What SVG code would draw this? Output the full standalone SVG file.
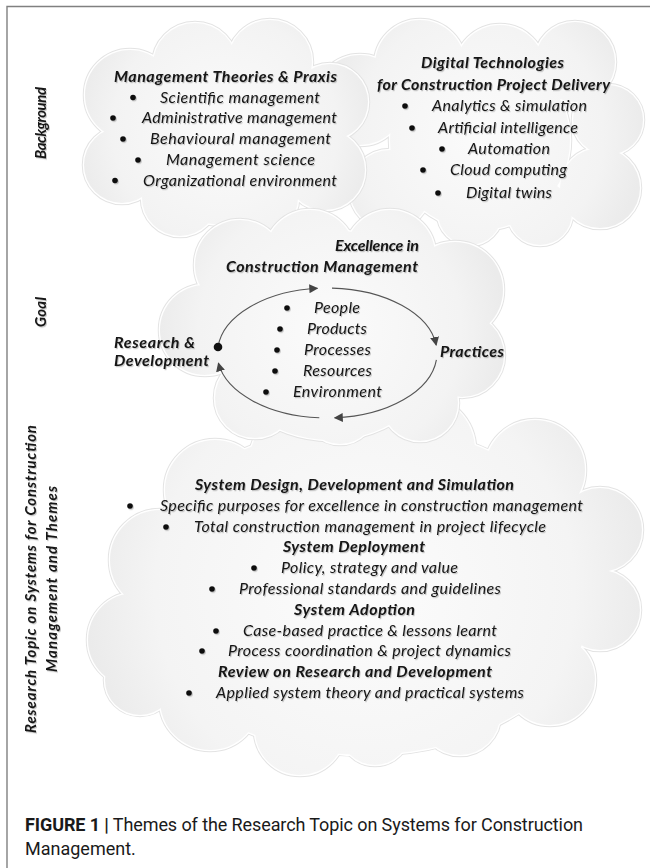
<svg xmlns="http://www.w3.org/2000/svg" width="650" height="868" viewBox="0 0 650 868">
<defs>
<style>
.t{font-family:Lato,"Open Sans","Liberation Sans",sans-serif;font-size:16px;font-style:italic;fill:#141414}
.h{font-family:Lato,"Open Sans","Liberation Sans",sans-serif;font-size:16px;font-style:italic;font-weight:bold;fill:#141414}
.lab{font-family:Lato,"Open Sans","Liberation Sans",sans-serif;font-size:15px;font-style:italic;font-weight:bold;fill:#141414}
.cap{font-family:Roboto,"Liberation Sans",sans-serif;font-size:18px;fill:#1a1a1a}
.bul{fill:#111}
.cs1{fill:none;stroke:#e3e3e3;stroke-width:4.5}
.cs2{fill:none;stroke:#ffffff;stroke-width:2.6}
.arc{fill:none;stroke:#555;stroke-width:1.1}
</style>
<filter id="ts" x="-5%" y="-20%" width="110%" height="150%">
<feDropShadow dx="1" dy="1.2" stdDeviation="0.7" flood-color="#000" flood-opacity="0.22"/>
</filter>
<radialGradient id="g1" gradientUnits="userSpaceOnUse" cx="225" cy="130" r="150">
<stop offset="0" stop-color="#fbfbfb"/><stop offset="0.75" stop-color="#f3f3f3"/><stop offset="1" stop-color="#ebebeb"/>
</radialGradient>
<radialGradient id="g2" gradientUnits="userSpaceOnUse" cx="480" cy="135" r="165">
<stop offset="0" stop-color="#fbfbfb"/><stop offset="0.75" stop-color="#f3f3f3"/><stop offset="1" stop-color="#ebebeb"/>
</radialGradient>
<radialGradient id="g3" gradientUnits="userSpaceOnUse" cx="330" cy="330" r="175">
<stop offset="0" stop-color="#fbfbfb"/><stop offset="0.75" stop-color="#f3f3f3"/><stop offset="1" stop-color="#ebebeb"/>
</radialGradient>
<radialGradient id="g4" gradientUnits="userSpaceOnUse" cx="365" cy="590" r="280">
<stop offset="0" stop-color="#fcfcfc"/><stop offset="0.75" stop-color="#f4f4f4"/><stop offset="1" stop-color="#ebebeb"/>
</radialGradient>
<marker id="ah" viewBox="0 0 10 10" refX="9" refY="5" markerWidth="9" markerHeight="9" markerUnits="userSpaceOnUse" orient="auto">
<path d="M0,0 L10,5 L0,10 Z" fill="#444"/>
</marker>
<g id="c1">
<circle cx="130" cy="95" r="45"/><circle cx="195" cy="65" r="42"/><circle cx="270" cy="62" r="42"/>
<circle cx="330" cy="102" r="38"/><circle cx="325" cy="170" r="40"/><circle cx="260" cy="198" r="38"/>
<circle cx="180" cy="198" r="38"/><circle cx="122" cy="165" r="38"/><circle cx="225" cy="135" r="90"/>
</g>
<g id="c2">
<circle cx="360" cy="100" r="45"/><circle cx="420" cy="65" r="45"/><circle cx="500" cy="70" r="45"/>
<circle cx="575" cy="62" r="40"/><circle cx="608" cy="120" r="35"/><circle cx="600" cy="188" r="40"/>
<circle cx="540" cy="213" r="32"/><circle cx="470" cy="213" r="32"/><circle cx="390" cy="190" r="40"/>
<circle cx="480" cy="140" r="90"/>
</g>
<g id="c3">
<circle cx="205" cy="330" r="45"/><circle cx="240" cy="265" r="45"/><circle cx="310" cy="255" r="45"/>
<circle cx="390" cy="255" r="45"/><circle cx="455" cy="290" r="48"/><circle cx="462" cy="355" r="42"/>
<circle cx="420" cy="403" r="38"/><circle cx="340" cy="408" r="36"/><circle cx="255" cy="398" r="40"/>
<ellipse cx="330" cy="335" rx="115" ry="105"/>
</g>
<g id="c4">
<circle cx="135" cy="640" r="47"/><circle cx="160" cy="560" r="50"/><circle cx="215" cy="490" r="50"/>
<circle cx="300" cy="460" r="50"/><circle cx="420" cy="450" r="55"/><circle cx="535" cy="470" r="50"/>
<circle cx="600" cy="530" r="42"/><circle cx="600" cy="610" r="40"/><circle cx="550" cy="680" r="45"/>
<circle cx="460" cy="715" r="40"/><circle cx="375" cy="730" r="35"/><circle cx="300" cy="730" r="45"/>
<circle cx="210" cy="700" r="50"/><circle cx="140" cy="680" r="35"/>
<ellipse cx="365" cy="590" rx="230" ry="165"/>
</g>
</defs>

<rect width="650" height="868" fill="#ffffff"/>
<path d="M7,868 V6.5 H650" fill="none" stroke="#808080" stroke-width="1.4"/>

<!-- clouds -->
<g id="cloud-themes">
<use href="#c4" class="cs1"/><use href="#c4" class="cs2"/><use href="#c4" fill="url(#g4)"/>
</g>
<g id="cloud-digital">
<use href="#c2" class="cs1"/><use href="#c2" class="cs2"/><use href="#c2" fill="url(#g2)"/>
</g>
<g id="cloud-theories">
<use href="#c1" class="cs1"/><use href="#c1" class="cs2"/><use href="#c1" fill="url(#g1)"/>
</g>
<g id="cloud-goal">
<use href="#c3" class="cs1"/><use href="#c3" class="cs2"/><use href="#c3" fill="url(#g3)"/>
</g>

<!-- side labels -->
<g id="side-labels" filter="url(#ts)">
<text class="lab" transform="translate(46,123) rotate(-90)" text-anchor="middle" textLength="72">Background</text>
<text class="lab" transform="translate(46,312) rotate(-90)" text-anchor="middle" textLength="30">Goal</text>
<text class="lab" transform="translate(36,579) rotate(-90)" text-anchor="middle" textLength="308">Research Topic on Systems for Construction</text>
<text class="lab" transform="translate(57,579) rotate(-90)" text-anchor="middle" textLength="186">Management and Themes</text>
</g>

<!-- Management theories -->
<g id="node-management-theories" filter="url(#ts)">
<text class="h" x="114" y="82" textLength="223">Management Theories &amp; Praxis</text>
<circle class="bul" cx="133" cy="97.5" r="2.8"/><text class="t" x="160" y="102.5" textLength="160">Scientific management</text>
<circle class="bul" cx="113" cy="118" r="2.8"/><text class="t" x="142" y="123" textLength="195">Administrative management</text>
<circle class="bul" cx="123" cy="139" r="2.8"/><text class="t" x="150" y="144" textLength="181">Behavioural management</text>
<circle class="bul" cx="138" cy="160" r="2.8"/><text class="t" x="166" y="165" textLength="149">Management science</text>
<circle class="bul" cx="115" cy="180.5" r="2.8"/><text class="t" x="143" y="185.5" textLength="194">Organizational environment</text>
</g>

<!-- Digital technologies -->
<g id="node-digital-technologies" filter="url(#ts)">
<text class="h" x="421" y="68" textLength="143">Digital Technologies</text>
<text class="h" x="377" y="89.5" textLength="233">for Construction Project Delivery</text>
<circle class="bul" cx="405" cy="106" r="2.8"/><text class="t" x="432" y="111" textLength="155">Analytics &amp; simulation</text>
<circle class="bul" cx="412" cy="128" r="2.8"/><text class="t" x="438" y="133" textLength="140">Artificial intelligence</text>
<circle class="bul" cx="442" cy="149" r="2.8"/><text class="t" x="468" y="154" textLength="82">Automation</text>
<circle class="bul" cx="423" cy="170" r="2.8"/><text class="t" x="450" y="175" textLength="117">Cloud computing</text>
<circle class="bul" cx="438" cy="193" r="2.8"/><text class="t" x="466" y="198" textLength="86">Digital twins</text>
</g>

<!-- Goal cycle -->
<g id="node-excellence" filter="url(#ts)">
<text class="h" x="335" y="251" textLength="84">Excellence in</text>
<text class="h" x="226" y="272" textLength="192">Construction Management</text>
</g>
<g id="node-goal-items" filter="url(#ts)">
<circle class="bul" cx="287" cy="308" r="2.8"/><text class="t" x="314" y="313" textLength="46">People</text>
<circle class="bul" cx="280" cy="329" r="2.8"/><text class="t" x="307" y="334" textLength="60">Products</text>
<circle class="bul" cx="277" cy="350" r="2.8"/><text class="t" x="304" y="355" textLength="67">Processes</text>
<circle class="bul" cx="275" cy="371" r="2.8"/><text class="t" x="303" y="376" textLength="69">Resources</text>
<circle class="bul" cx="266" cy="392" r="2.8"/><text class="t" x="293" y="397" textLength="89">Environment</text>
</g>
<g id="node-research-development" filter="url(#ts)">
<text class="h" x="114" y="348" textLength="81">Research &amp;</text>
<text class="h" x="114" y="366" textLength="95">Development</text>
</g>
<g id="node-practices" filter="url(#ts)">
<text class="h" x="440" y="357" textLength="64">Practices</text>
</g>

<g id="connectors">
<path class="arc" d="M218,347 A110,65 0 0 1 317.4,288.3" marker-end="url(#ah)"/>
<path class="arc" d="M332,288.1 A110,65 0 0 1 436.2,345.1" marker-end="url(#ah)"/>
<path class="arc" d="M436.4,359.8 A110,65 0 0 1 334.7,417.8" marker-end="url(#ah)"/>
<path class="arc" d="M319.3,417.8 A110,65 0 0 1 218.4,363.2" marker-end="url(#ah)"/>
<circle cx="218" cy="347" r="4.3" fill="#111"/>
</g>

<!-- Themes -->
<g id="node-themes" filter="url(#ts)">
<text class="h" x="195" y="490" textLength="319">System Design, Development and Simulation</text>
<circle class="bul" cx="130" cy="506" r="2.8"/><text class="t" x="160" y="511" textLength="423">Specific purposes for excellence in construction management</text>
<circle class="bul" cx="166" cy="527" r="2.8"/><text class="t" x="194" y="532" textLength="352">Total construction management in project lifecycle</text>
<text class="h" x="283" y="552" textLength="142">System Deployment</text>
<circle class="bul" cx="254" cy="568" r="2.8"/><text class="t" x="281" y="573" textLength="177">Policy, strategy and value</text>
<circle class="bul" cx="212" cy="589" r="2.8"/><text class="t" x="239" y="594" textLength="262">Professional standards and guidelines</text>
<text class="h" x="294" y="615" textLength="121">System Adoption</text>
<circle class="bul" cx="216" cy="631" r="2.8"/><text class="t" x="243" y="636" textLength="254">Case-based practice &amp; lessons learnt</text>
<circle class="bul" cx="202" cy="651" r="2.8"/><text class="t" x="228" y="656" textLength="283">Process coordination &amp; project dynamics</text>
<text class="h" x="218" y="677" textLength="274">Review on Research and Development</text>
<circle class="bul" cx="189" cy="693" r="2.8"/><text class="t" x="216" y="698" textLength="308">Applied system theory and practical systems</text>
</g>

<!-- caption -->
<g id="caption">
<text class="cap" x="25" y="831" textLength="558"><tspan font-weight="bold">FIGURE 1 |</tspan> Themes of the Research Topic on Systems for Construction</text>
<text class="cap" x="25" y="855">Management.</text>
</g>
</svg>
